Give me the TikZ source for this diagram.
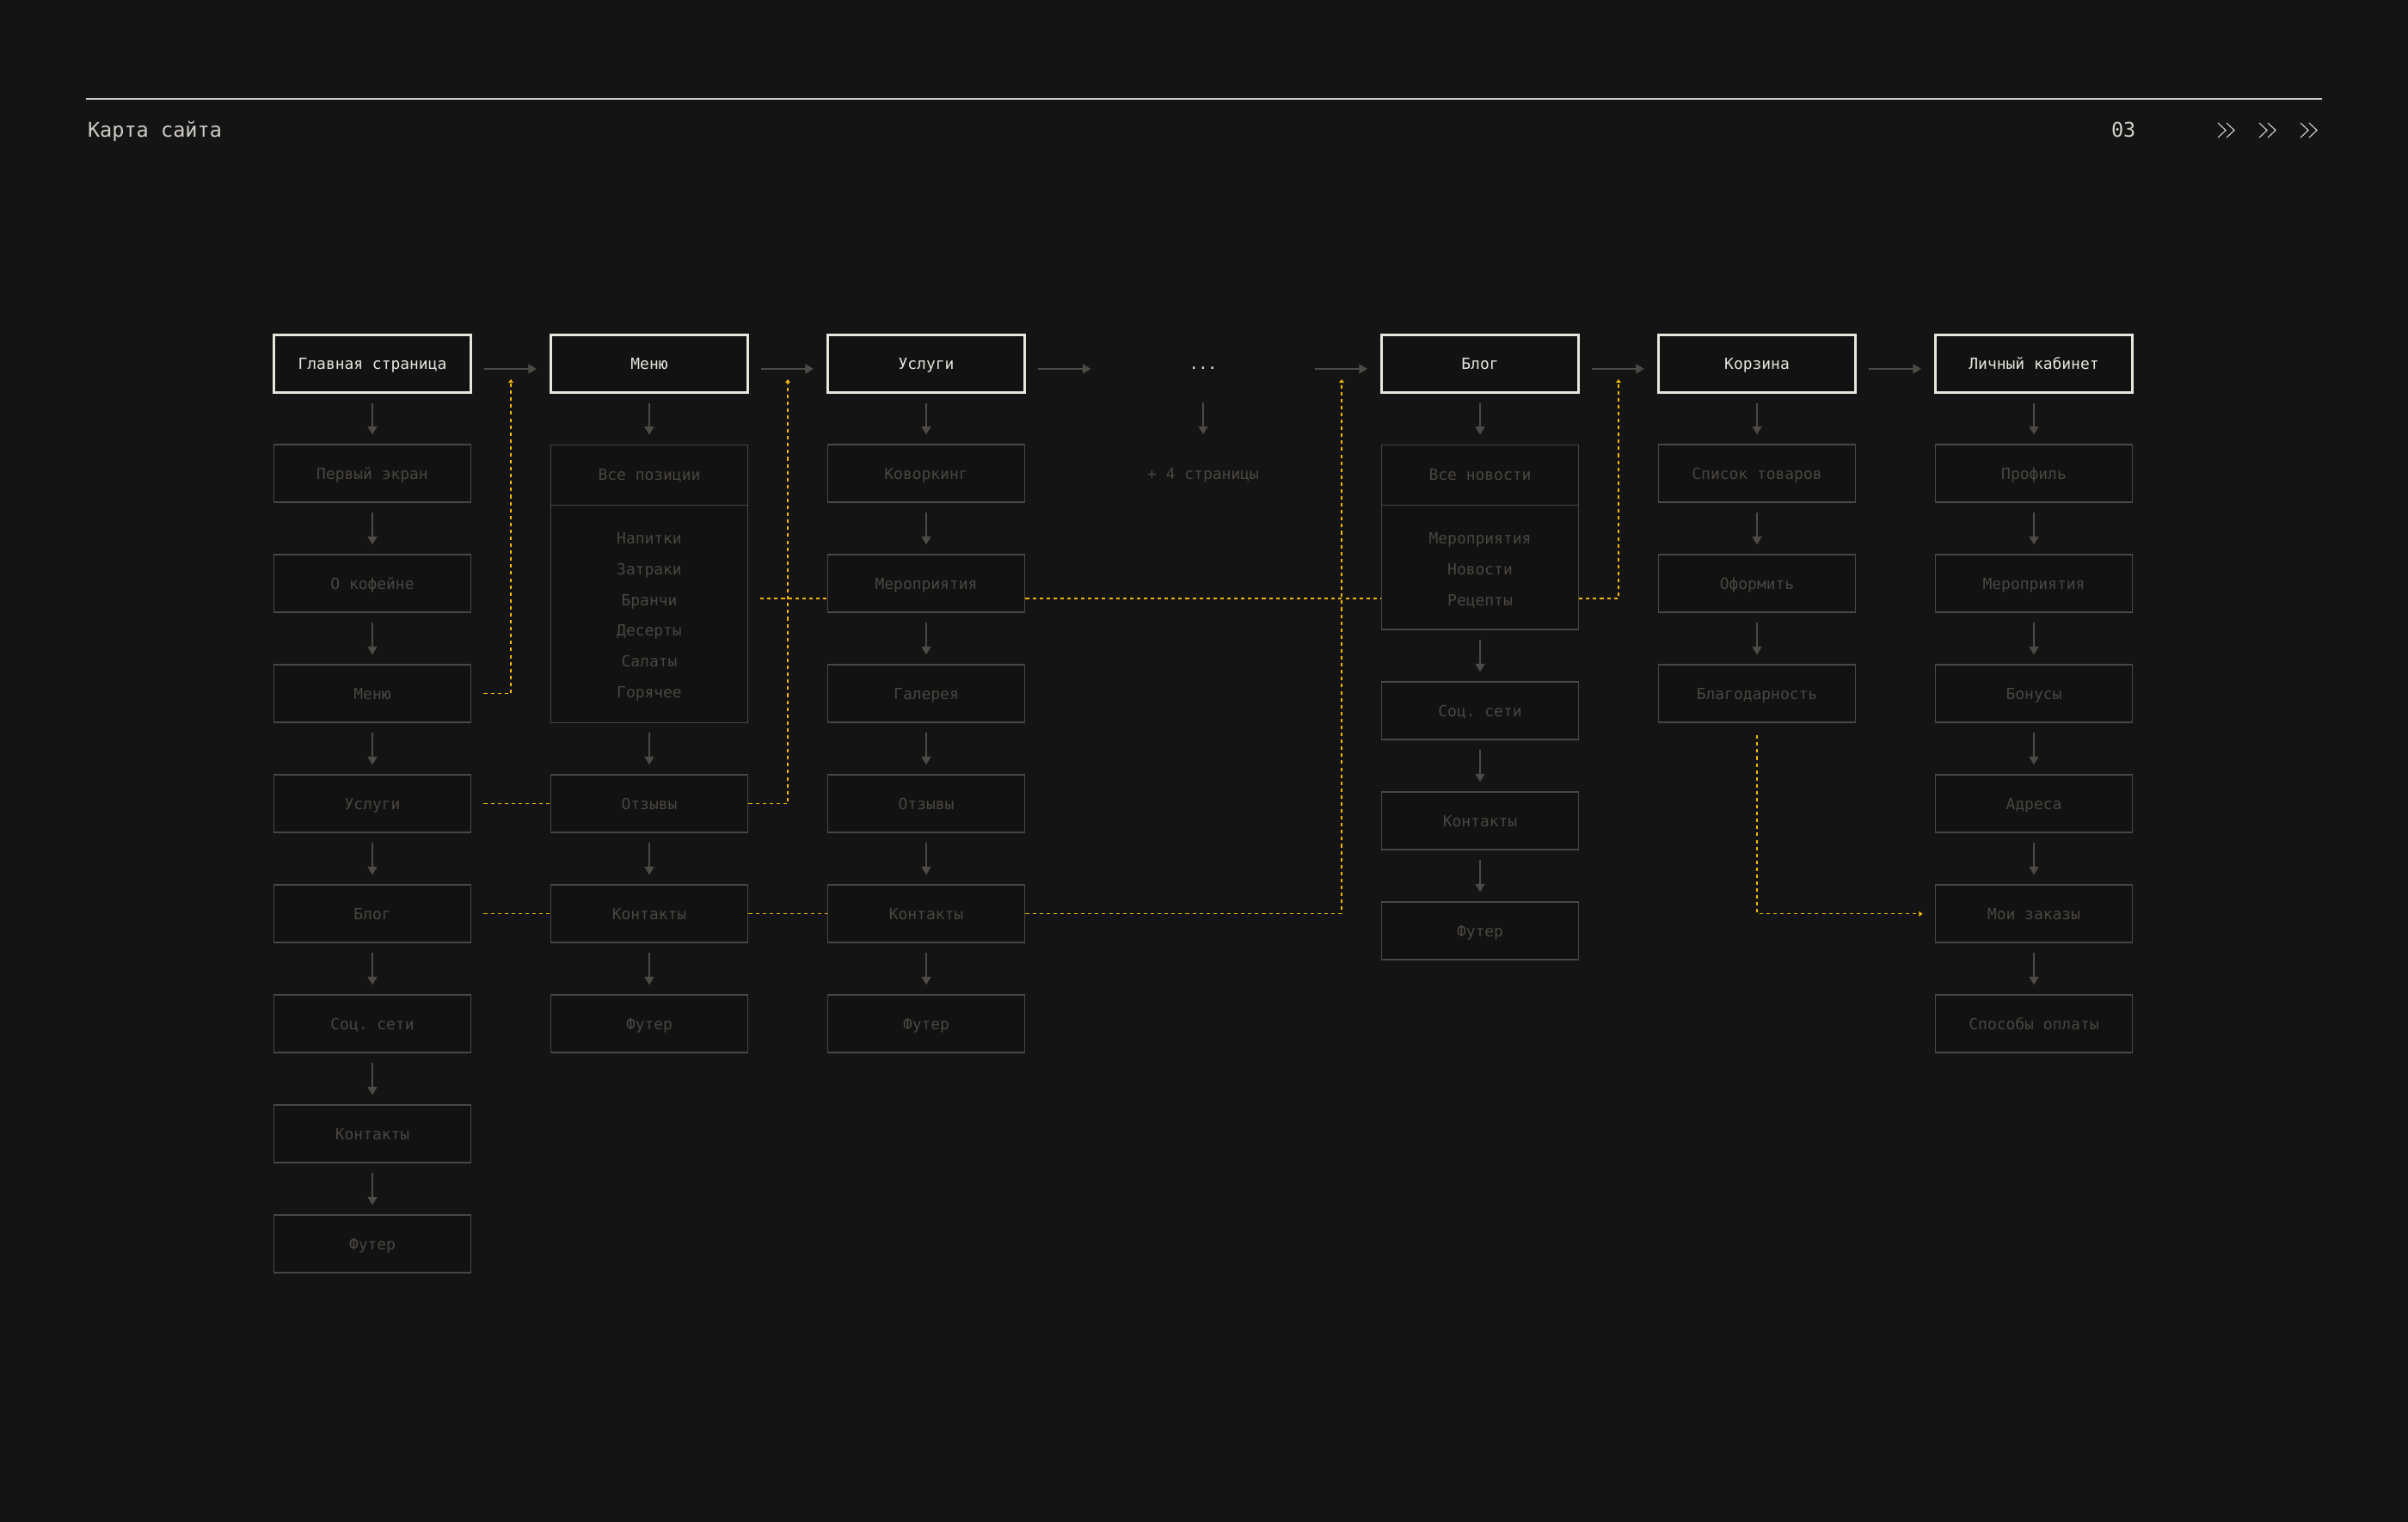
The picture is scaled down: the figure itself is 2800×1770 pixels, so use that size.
\documentclass[tikz,border=0pt]{standalone}
\usepackage{fontspec}
\setmonofont{DejaVu Sans Mono}
\usetikzlibrary{arrows.meta, positioning}
\definecolor{cbg}{HTML}{141414}
\definecolor{cfill}{HTML}{121212}
\definecolor{cwhite}{HTML}{E8E5DF}
\definecolor{cdim}{HTML}{4A4641}
\definecolor{cline}{HTML}{4D4A46}
\definecolor{cyellow}{HTML}{F2B705}
\definecolor{chead}{HTML}{CFCCC6}
\newcommand{\boxfont}{\ttfamily\fontsize{5.1pt}{6pt}\selectfont}
\newcommand{\listfont}{\ttfamily\fontsize{5.1pt}{10.16pt}\selectfont}
\newcommand{\headfont}{\ttfamily\fontsize{6.7pt}{8pt}\selectfont}
\newcommand{\liststrut}{\rule{0pt}{5.7pt}}
\tikzset{
  every picture/.style={line width=0.57pt},
  mainbox/.style={draw=cwhite, fill=cfill, line width=0.85pt, minimum width=2.29cm, minimum height=0.67cm, inner sep=0pt, text=cwhite, font=\boxfont, text height=3.7pt, text depth=0pt},
  subbox/.style={draw=cdim, fill=cfill, line width=0.5pt, minimum width=2.29cm, minimum height=0.67cm, inner sep=0pt, text=cdim, font=\boxfont, text height=3.7pt, text depth=0pt},
  listbox/.style={draw=cdim, fill=cfill, line width=0.35pt, minimum width=2.29cm, inner sep=0pt, text=cdim, align=center, font=\listfont},
  ghost/.style={minimum width=2.29cm, minimum height=0.67cm, inner sep=0pt, font=\boxfont, text height=3.7pt, text depth=0pt},
  arrow/.style={-{Triangle[length=2.7pt, width=3.1pt]}, draw=cline, line width=0.57pt, shorten <=0.11cm, shorten >=0.11cm},
  harrow/.style={arrow, shorten <=0.14cm, shorten >=0.15cm},
  yline/.style={draw=cyellow, line width=0.35pt, dash pattern=on 1.15pt off 1.15pt},
  yarrow/.style={yline, -{Triangle[length=1.2pt, width=1.7pt]}},
}

\begin{document}
\begin{tikzpicture}[x=0.01cm, y=-0.01cm]
  \fill[cbg] (0,0) rectangle (2800,1770);
  \useasboundingbox (0,0) rectangle (2800,1770);
  % header
  \draw[chead] (100,115) -- (2700,115);
  \node[font=\headfont, text=chead, anchor=base west, inner sep=0pt] (title) at (101,160) {Карта сайта};
  \node[font=\headfont, text=chead, anchor=base west, inner sep=0pt] (pagenum) at (2454,160) {03};
  \foreach \x in {2579,2627,2675} {
    \draw[chead, line width=0.33pt] (\x,143) -- ++(9,8.5) -- ++(-9,8.5);
    \draw[chead, line width=0.33pt] (\x+10,143) -- ++(9,8.5) -- ++(-9,8.5);
  }

  % main page
  \node[mainbox] (home) at (433,422.8) {Главная страница};
  \node[subbox] (home1) at (433,550.8) {Первый экран};
  \node[subbox] (home2) at (433,678.8) {О кофейне};
  \node[subbox] (home3) at (433,806.8) {Меню};
  \node[subbox] (home4) at (433,934.8) {Услуги};
  \node[subbox] (home5) at (433,1062.8) {Блог};
  \node[subbox] (home6) at (433,1190.8) {Соц. сети};
  \node[subbox] (home7) at (433,1318.8) {Контакты};
  \node[subbox] (home8) at (433,1446.8) {Футер};

  % menu
  \node[mainbox] (menu) at (755,422.8) {Меню};
  \node[listbox, minimum height=0.702cm, text height=3.7pt, text depth=0pt] (menuall) at (755,552.4) {Все позиции};
  \node[listbox, minimum height=2.528cm] (menulist) at (755,713.9) {\liststrut Напитки\\Затраки\\Бранчи\\Десерты\\Салаты\\Горячее};
  \node[subbox] (menurev) at (755,934.8) {Отзывы};
  \node[subbox] (menucont) at (755,1062.8) {Контакты};
  \node[subbox] (menufoot) at (755,1190.8) {Футер};

  % services
  \node[mainbox] (serv) at (1077,422.8) {Услуги};
  \node[subbox] (serv1) at (1077,550.8) {Коворкинг};
  \node[subbox] (serv2) at (1077,678.8) {Мероприятия};
  \node[subbox] (serv3) at (1077,806.8) {Галерея};
  \node[subbox] (serv4) at (1077,934.8) {Отзывы};
  \node[subbox] (serv5) at (1077,1062.8) {Контакты};
  \node[subbox] (serv6) at (1077,1190.8) {Футер};

  % more pages
  \node[ghost, text=cwhite] (more) at (1399,422.8) {...};
  \node[ghost, text=cdim] (morenote) at (1399,550.8) {+ 4 страницы};

  % blog
  \node[mainbox] (blog) at (1721,422.8) {Блог};
  \node[listbox, minimum height=0.702cm, text height=3.7pt, text depth=0pt] (blogall) at (1721,552.4) {Все новости};
  \node[listbox, minimum height=1.445cm] (bloglist) at (1721,659.75) {\liststrut Мероприятия\\Новости\\Рецепты};
  \node[subbox] (blog3) at (1721,826.7) {Соц. сети};
  \node[subbox] (blog4) at (1721,954.7) {Контакты};
  \node[subbox] (blog5) at (1721,1082.7) {Футер};

  % cart
  \node[mainbox] (cart) at (2043,422.8) {Корзина};
  \node[subbox] (cart1) at (2043,550.8) {Список товаров};
  \node[subbox] (cart2) at (2043,678.8) {Оформить};
  \node[subbox] (cart3) at (2043,806.8) {Благодарность};

  % account
  \node[mainbox] (acc) at (2365,422.8) {Личный кабинет};
  \node[subbox] (acc1) at (2365,550.8) {Профиль};
  \node[subbox] (acc2) at (2365,678.8) {Мероприятия};
  \node[subbox] (acc3) at (2365,806.8) {Бонусы};
  \node[subbox] (acc4) at (2365,934.8) {Адреса};
  \node[subbox] (acc5) at (2365,1062.8) {Мои заказы};
  \node[subbox] (acc6) at (2365,1190.8) {Способы оплаты};

  % flow
  \foreach \a/\b in {home/menu, menu/serv, serv/more, more/blog, blog/cart, cart/acc}
    \draw[harrow] ([yshift=-0.062cm]\a.east) -- ([yshift=-0.062cm]\b.west);
  \foreach \a/\b in {home/home1, home1/home2, home2/home3, home3/home4, home4/home5, home5/home6, home6/home7, home7/home8,
    menu/menuall, menulist/menurev, menurev/menucont, menucont/menufoot,
    serv/serv1, serv1/serv2, serv2/serv3, serv3/serv4, serv4/serv5, serv5/serv6,
    more/morenote, blog/blogall, bloglist/blog3, blog3/blog4, blog4/blog5,
    cart/cart1, cart1/cart2, cart2/cart3,
    acc/acc1, acc1/acc2, acc2/acc3, acc3/acc4, acc4/acc5, acc5/acc6}
    \draw[arrow] (\a) -- (\b);

  % cross links
  \coordinate (up1) at (594,441);
  \coordinate (up2) at (916,441);
  \coordinate (up3) at (1560,441);
  \coordinate (up4) at (1882,441);
  \coordinate (lvl) at (0,696);
  \draw[yarrow] ([xshift=0.14cm]home3.east) -| (up1);
  \draw[yline] ([xshift=0.14cm]home4.east) -- (menurev.west);
  \draw[yarrow] (menurev.east) -| (up2);
  \draw[yline] ([xshift=0.14cm]home5.east) -- (menucont.west);
  \draw[yline] (menucont.east) -- (serv5.west);
  \draw[yarrow] (serv5.east) -| (up3);
  \draw[yline] ([xshift=0.14cm]menulist.east |- lvl) -- (serv2.west |- lvl);
  \draw[yline] (serv2.east |- lvl) -- (bloglist.west |- lvl);
  \draw[yarrow] (bloglist.east |- lvl) -| (up4);
  \draw[yarrow] ([yshift=-0.14cm]cart3.south) |- ([xshift=-0.14cm]acc5.west);
\end{tikzpicture}
\end{document}
